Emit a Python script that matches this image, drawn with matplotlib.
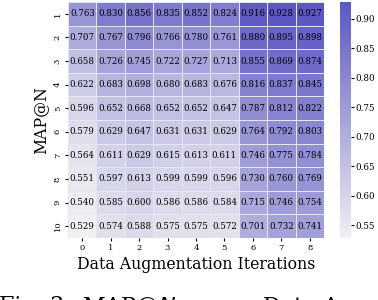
import numpy as np
import matplotlib
matplotlib.use("Agg")
import matplotlib.pyplot as plt
import seaborn as sns

iterations = [0, 1, 2, 3, 4, 5, 6, 7, 8]
n_values = [1, 2, 3, 4, 5, 6, 7, 8, 9, 10]

# rows = N (1..10), columns = augmentation iterations (0..8)
map_at_n = [
    [0.763, 0.830, 0.856, 0.835, 0.852, 0.824, 0.916, 0.928, 0.927],
    [0.707, 0.767, 0.796, 0.766, 0.780, 0.761, 0.880, 0.895, 0.898],
    [0.658, 0.726, 0.745, 0.722, 0.727, 0.713, 0.855, 0.869, 0.874],
    [0.622, 0.683, 0.698, 0.680, 0.683, 0.676, 0.816, 0.837, 0.845],
    [0.596, 0.652, 0.668, 0.652, 0.652, 0.647, 0.787, 0.812, 0.822],
    [0.579, 0.629, 0.647, 0.631, 0.631, 0.629, 0.764, 0.792, 0.803],
    [0.564, 0.611, 0.629, 0.615, 0.613, 0.611, 0.746, 0.775, 0.784],
    [0.551, 0.597, 0.613, 0.599, 0.599, 0.596, 0.730, 0.760, 0.769],
    [0.540, 0.585, 0.600, 0.586, 0.586, 0.584, 0.715, 0.746, 0.754],
    [0.529, 0.574, 0.588, 0.575, 0.575, 0.572, 0.701, 0.732, 0.741],
]
cbar_ticks = [0.55, 0.60, 0.65, 0.70, 0.75, 0.80, 0.85, 0.90]

plt.rcParams['font.family'] = ['DejaVu Serif']

fig = plt.figure(figsize=(3.78, 3.0), dpi=100)
ax = fig.add_axes([0.18, 0.207, 0.677, 0.786])
cax = fig.add_axes([0.899, 0.207, 0.029, 0.786])

cmap = sns.light_palette((0.36, 0.34, 0.76), as_cmap=True)
sns.heatmap(np.array(map_at_n), ax=ax, cbar_ax=cax, cmap=cmap,
            annot=True, fmt=".3f", annot_kws={"size": 6.2, "color": "black"},
            linewidths=0.5, linecolor="#e6e6f2",
            xticklabels=iterations, yticklabels=n_values)

ax.tick_params(axis='both', labelsize=6, length=2.5, width=0.8, pad=2)
ax.set_yticklabels(n_values, rotation=90, va='center')
ax.set_xticklabels(iterations, rotation=0)
ax.set_xlabel("Data Augmentation Iterations", fontsize=11.3, labelpad=3)
ax.set_ylabel("MAP@N", fontsize=11.3, labelpad=3)

cax.tick_params(labelsize=6.3, length=2, width=0.8, pad=1.5)
cax.set_yticks(cbar_ticks)
for s in cax.spines.values():
    s.set_visible(False)

# figure caption, cut off at the bottom edge like in the source
fig.text(0.217, 0.018, "MAP@$N$ versus Data Augmentation", fontsize=16,
         ha='left', va='top')
fig.text(0.19, 0.018, "Fig. 3:", fontsize=16, ha='right', va='top')

fig.savefig("out.png", dpi=100)
